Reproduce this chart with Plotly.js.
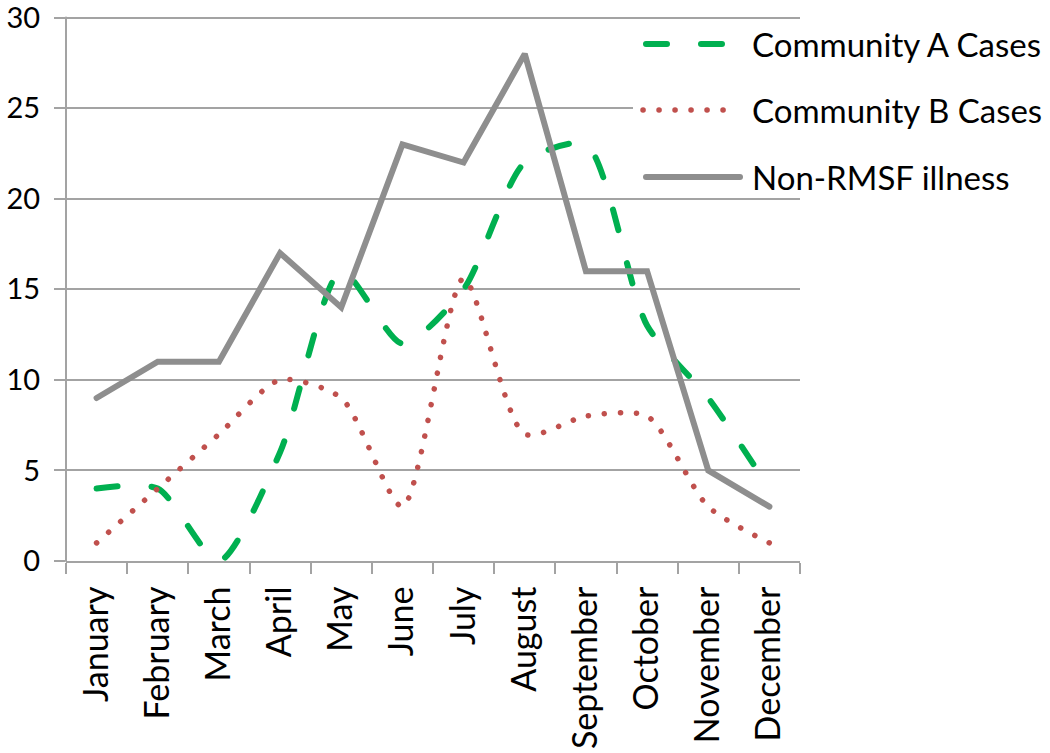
<!DOCTYPE html>
<html><head><meta charset="utf-8">
<script src="https://cdn.plot.ly/plotly-3.0.1.min.js"></script>
<style>
html,body{margin:0;padding:0;background:#fff;}
#chart{width:1050px;height:753px;}
.scatterlayer .js-line, .shapelayer path{stroke-linecap:round;}
</style></head><body><div id="chart"></div>
<script>
const months = ['January','February','March','April','May','June','July','August','September','October','November','December'];
const communityA = [4,4,0,6,16,12,15,22,23,13,9,4];
const communityB = [1,4,7,10,9,3,15.6,7,8,8,3,1];
const nonRMSF = [9,11,11,17,14,23,22,28,16,16,5,3];
const seriesNames = ['Community A Cases','Community B Cases','Non-RMSF illness'];
const yTickVals = [0,5,10,15,20,25,30];

const FONT = 'Lato, "Open Sans", sans-serif';
const GREEN = '#00B050', RED = '#C0504D', GRAY = '#8E8E8E', GRID = '#A3A3A3';
const DASH_A = '21px,34px', DOT_B = '0.1px,15.9px';

// plot area in pixels (y axis top slightly above the 30 line so that it is drawn)
const L = 66, R = 800, T = 14, B = 561, W = 1050, H = 753;
const Y_MAX = 30.2;
const y30 = T + (Y_MAX - 30) / Y_MAX * (B - T);
const px = x => (x - L) / (R - L);
const py = y => (B - y) / (B - T);

const traces = [
  {x: months, y: communityA, name: seriesNames[0], type: 'scatter', mode: 'lines',
   line: {color: GREEN, width: 6, dash: DASH_A, shape: 'spline', smoothing: 0.7}},
  {x: months, y: communityB, name: seriesNames[1], type: 'scatter', mode: 'lines',
   line: {color: RED, width: 5.5, dash: DOT_B, shape: 'spline', smoothing: 0.7}},
  {x: months, y: nonRMSF, name: seriesNames[2], type: 'scatter', mode: 'lines',
   line: {color: GRAY, width: 6}}
];

const legendRows = [
  {y: 44, color: GREEN, width: 6, dash: DASH_A, x0: 646, x1: 727},
  {y: 110, color: RED, width: 5.5, dash: DOT_B, x0: 643, x1: 724},
  {y: 177, color: GRAY, width: 6, dash: 'solid', x0: 646, x1: 740}
];

const shapes = [{type: 'rect', xref: 'paper', yref: 'paper', x0: px(633), x1: px(800), y0: py(192), y1: py(y30 + 7),
  fillcolor: '#ffffff', line: {width: 0}, layer: 'above'}];
const annotations = [];
legendRows.forEach((r, i) => {
  shapes.push({type: 'line', xref: 'paper', yref: 'paper', x0: px(r.x0), x1: px(r.x1), y0: py(r.y), y1: py(r.y),
    line: {color: r.color, width: r.width, dash: r.dash}, layer: 'above'});
  annotations.push({xref: 'paper', yref: 'paper', x: px(750), y: py(r.y), xanchor: 'left', yanchor: 'middle',
    text: seriesNames[i], showarrow: false, font: {family: FONT, size: 33, color: '#000'}});
});

const layout = {
  width: W, height: H,
  margin: {l: L, r: W - R, t: T, b: H - B, pad: 0},
  paper_bgcolor: '#fff', plot_bgcolor: '#fff',
  showlegend: false,
  font: {family: FONT, color: '#000'},
  xaxis: {type: 'category', range: [-0.5, 11.5], tickangle: -90, tickson: 'boundaries', ticks: 'outside', ticklen: 11,
    tickcolor: GRID, tickwidth: 2, showline: true, linecolor: GRID, linewidth: 2, showgrid: false,
    ticklabelstandoff: 10, ticklabeloverflow: 'allow',
    tickfont: {family: FONT, size: 34, color: '#000'}, fixedrange: true},
  yaxis: {range: [0, Y_MAX], tickvals: yTickVals, ticks: 'outside', ticklen: 11, tickcolor: GRID, tickwidth: 2,
    showline: false, gridcolor: GRID, gridwidth: 2, zeroline: false,
    ticklabelstandoff: 8, ticklabeloverflow: 'allow',
    tickfont: {family: FONT, size: 29, color: '#000'}, fixedrange: true},
  shapes: shapes.concat([{type: 'line', xref: 'paper', yref: 'paper', x0: 0, x1: 0, y0: 0, y1: py(y30),
    line: {color: GRID, width: 2}, layer: 'below'}]),
  annotations: annotations
};

Plotly.newPlot('chart', traces, layout, {displayModeBar: false, staticPlot: true});
</script></body></html>
